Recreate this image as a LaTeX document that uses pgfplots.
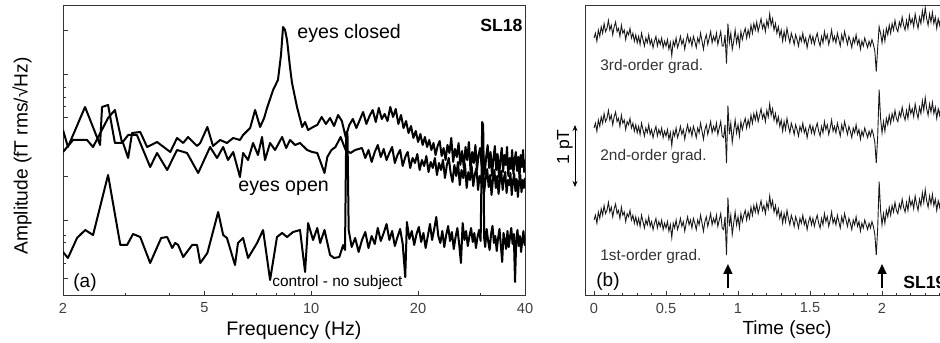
\documentclass[border=0pt]{standalone}
\usepackage{pgfplots}
\pgfplotsset{compat=1.18}
\usepackage{pgfplotstable}
\usepackage{fontspec}
\setmainfont{Liberation Sans}
\usetikzlibrary{arrows.meta}
\newcommand\tickfont{\fontsize{7.3}{8}\selectfont}

% eyes closed spectrum (vertical value = depth in px from top of figure)
\pgfplotstableread{
f py
2.000 130
2.065 147
2.307 107
2.543 145
2.576 107
2.679 105
2.800 143
2.953 143
3.051 158
3.130 133
3.300 132
3.450 147
3.680 142
4.010 152
4.190 138
4.360 143
4.500 137
4.770 146
4.870 143
5.100 127
5.290 146
5.540 140
5.790 143
6.030 138
6.300 140
6.430 135
6.730 128
6.950 110
7.180 127
7.370 118
7.510 108
7.810 90
8.060 80
8.220 55
8.330 27
8.440 30
8.550 40
8.720 68
8.830 83
9.120 107
9.430 127
9.610 122
9.800 130
10.12 127
10.4 125
10.7 117
11.0 124
11.3 118
11.6 126
11.9 115
12.2 121
12.5 137
12.8 125
13.1 119
13.4 128
13.7 120
14.0 112
14.3 124
14.6 116
14.9 110
15.2 122
15.5 108
15.8 119
16.1 114
16.4 121
16.7 107
17.0 117
17.3 109
17.6 124
17.9 115
18.2 128
18.5 121
18.8 133
19.1 126
19.4 138
19.7 131
20.0 142
20.3 134
20.6 145
20.9 137
21.2 147
21.5 140
21.8 150
22.1 143
22.4 155
22.7 146
23.0 141
23.3 156
23.6 148
23.9 160
24.2 145
24.5 153
24.8 138
25.1 162
25.4 149
25.7 157
26.0 143
26.3 165
26.6 151
26.9 168
27.2 147
27.5 160
27.8 142
28.1 171
28.4 152
28.7 163
29.0 145
29.3 170
29.6 155
29.9 148
30.2 166
30.5 150
30.8 174
31.1 157
31.4 145
31.7 168
32.0 152
32.3 176
32.6 158
32.9 146
33.2 170
33.5 154
33.8 178
34.1 160
34.4 148
34.7 172
35.0 155
35.3 165
35.6 147
35.9 176
36.2 158
36.5 169
36.8 150
37.1 174
37.4 160
37.7 152
38.0 171
38.3 157
38.6 178
38.9 155
39.2 167
39.5 150
39.8 172
40.0 160
}\closedtbl

% eyes open spectrum
\pgfplotstableread{
f py
2.000 152
2.134 140
2.337 140
2.430 147
2.679 118
2.800 110
2.934 143
3.051 135
3.230 135
3.520 167
3.680 153
3.930 170
4.190 150
4.470 153
4.805 173
5.190 147
5.430 158
5.650 147
5.830 160
6.030 152
6.300 177
6.430 153
6.640 160
6.860 143
7.080 155
7.270 137
7.410 160
7.660 143
7.910 150
8.280 137
8.500 148
8.720 140
9.010 145
9.300 143
9.740 150
10.06 152
10.40 153
10.70 165
10.90 173
11.10 157
11.40 150
11.70 147
12.10 137
12.50 150
12.90 153
13.30 150
13.90 148
14.2 158
14.5 150
14.8 162
15.1 152
15.4 145
15.7 157
16.0 149
16.3 160
16.6 153
16.9 147
17.2 163
17.5 155
17.8 150
18.1 166
18.4 157
18.7 152
19.0 168
19.3 158
19.6 163
19.9 154
20.2 170
20.5 160
20.8 166
21.1 156
21.4 172
21.7 162
22.0 168
22.3 158
22.6 175
22.9 163
23.2 170
23.5 160
23.8 178
24.1 165
24.4 158
24.7 173
25.0 182
25.3 165
25.6 176
25.9 162
26.2 185
26.5 170
26.8 178
27.1 164
27.4 188
27.7 172
28.0 180
28.3 166
28.6 186
28.9 174
29.2 168
29.5 190
29.8 176
30.1 183
30.4 170
30.7 192
31.0 178
31.3 169
31.6 187
31.9 175
32.2 195
32.5 179
32.8 170
33.1 188
33.4 176
33.7 194
34.0 180
34.3 171
34.6 190
34.9 178
35.2 172
35.5 193
35.8 180
36.1 185
36.4 173
36.7 195
37.0 181
37.3 174
37.6 191
37.9 179
38.2 197
38.5 182
38.8 175
39.1 192
39.4 180
39.7 188
40.0 178
}\opentbl

% control - no subject
\pgfplotstableread{
f py
2.000 252
2.065 258
2.190 238
2.310 230
2.430 235
2.679 175
2.900 245
3.030 245
3.150 234
3.300 237
3.520 263
3.780 238
3.930 237
4.060 248
4.140 243
4.220 245
4.360 257
4.620 245
4.770 245
4.870 263
5.100 253
5.470 212
5.650 235
5.790 238
6.100 265
6.220 243
6.430 238
6.640 258
7.040 243
7.320 230
7.660 280
8.010 237
8.280 233
8.550 237
8.890 232
9.300 230
9.610 272
9.800 223
10.12 240
10.40 228
10.60 243
10.90 230
11.30 255
11.60 258
12.00 257
12.30 245
12.45 250
12.55 132
12.65 134
12.75 230
13.0 247
13.3 238
13.6 252
13.9 240
14.2 232
14.5 248
14.8 236
15.1 244
15.4 228
15.7 241
16.0 233
16.3 224
16.6 240
16.9 231
17.2 246
17.5 237
17.8 229
18.1 244
18.4 277
18.6 222
18.9 239
19.2 231
19.5 245
19.8 234
20.1 227
20.4 242
20.7 233
21.0 248
21.3 236
21.6 224
21.9 240
22.2 229
22.5 217
22.8 236
23.1 243
23.4 231
23.7 247
24.0 235
24.3 226
24.6 241
24.9 232
25.2 249
25.5 237
25.8 228
26.1 244
26.4 263
26.7 223
27.0 240
27.3 231
27.6 246
27.9 236
28.2 228
28.5 242
28.8 233
29.1 248
29.4 237
29.7 230
30.0 241
30.3 122
30.5 125
30.7 238
30.9 247
31.2 229
31.5 241
31.8 250
32.1 234
32.4 226
32.7 243
33.0 236
33.3 251
33.6 238
33.9 229
34.2 245
34.5 262
34.8 233
35.1 240
35.4 249
35.7 231
36.0 247
36.3 237
36.6 228
36.9 244
37.2 234
37.5 282
37.8 239
38.1 230
38.4 246
38.7 236
39.0 252
39.3 240
39.6 231
39.9 245
40.0 238
}\controltbl

% time traces: a = 1st/2nd-order gradiometer, b = 3rd-order (deviation, + = down)
\pgfplotstableread{
t a b
0.00 0 0
0.01 -3 -3
0.02 2 2
0.03 -5 -5
0.04 -1 -1
0.05 -7 -7
0.06 -3 -3
0.07 -9 -9
0.08 -4 -4
0.09 -6 -6
0.10 -11 -11
0.11 -5 -5
0.12 -8 -8
0.13 -2 -2
0.14 -7 -7
0.15 -10 -10
0.16 -4 -4
0.17 -6 -6
0.18 -1 -1
0.19 -8 -8
0.20 -3 -3
0.21 -5 -5
0.22 1 1
0.23 -4 -4
0.24 -2 -2
0.25 -6 -6
0.26 0 0
0.27 -3 -3
0.28 2 2
0.29 -2 -2
0.30 3 3
0.31 -1 -1
0.32 4 4
0.33 -3 -3
0.34 1 1
0.35 5 5
0.36 0 0
0.37 3 3
0.38 -2 -2
0.39 4 4
0.40 1 1
0.41 6 6
0.42 2 2
0.43 -1 -1
0.44 5 5
0.45 1 1
0.46 4 4
0.47 0 0
0.48 6 6
0.49 2 2
0.50 5 5
0.51 1 1
0.52 7 7
0.53 3 3
0.54 11 11
0.55 2 2
0.56 5 5
0.57 0 0
0.58 6 6
0.59 3 3
0.60 -1 -1
0.61 4 4
0.62 1 1
0.63 7 7
0.64 2 2
0.65 -2 -2
0.66 3 3
0.67 0 0
0.68 5 5
0.69 -1 -1
0.70 2 2
0.71 6 6
0.72 0 0
0.73 3 3
0.74 -3 -3
0.75 2 2
0.76 7 7
0.77 1 1
0.78 -2 -2
0.79 4 4
0.80 0 0
0.81 -4 -4
0.82 3 3
0.83 -1 -1
0.84 2 2
0.85 -3 -3
0.86 4 4
0.87 0 0
0.88 -4 -4
0.89 5 5
0.90 6 5
0.91 -2 -2
0.92 22 16
0.93 -14 -9
0.94 4 3
0.95 -3 -3
0.96 9 7
0.97 2 2
0.98 -5 -5
0.99 3 3
1.00 -2 -2
1.01 5 5
1.02 -4 -4
1.03 1 1
1.04 -3 -3
1.05 -6 -6
1.06 0 0
1.07 -5 -5
1.08 -1 -1
1.09 -8 -8
1.10 -3 -3
1.11 -9 -9
1.12 -5 -5
1.13 -10 -10
1.14 -4 -4
1.15 -8 -8
1.16 -12 -12
1.17 -6 -6
1.18 -9 -9
1.19 -4 -4
1.20 -11 -11
1.21 -7 -7
1.22 -15 -15
1.23 -8 -8
1.24 -12 -12
1.25 -5 -5
1.26 -9 -9
1.27 -3 -3
1.28 -7 -7
1.29 -1 -1
1.30 -5 -5
1.31 2 2
1.32 -4 -4
1.33 1 1
1.34 -6 -6
1.35 -1 -1
1.36 3 3
1.37 -3 -3
1.38 0 0
1.39 4 4
1.40 -2 -2
1.41 1 1
1.42 5 5
1.43 -1 -1
1.44 2 2
1.45 -3 -3
1.46 3 3
1.47 0 0
1.48 6 6
1.49 1 1
1.50 -2 -2
1.51 3 3
1.52 -1 -1
1.53 4 4
1.54 0 0
1.55 -3 -3
1.56 2 2
1.57 5 5
1.58 -1 -1
1.59 3 3
1.60 -4 -4
1.61 1 1
1.62 -2 -2
1.63 4 4
1.64 0 0
1.65 -5 -5
1.66 2 2
1.67 -1 -1
1.68 3 3
1.69 -3 -3
1.70 1 1
1.71 5 5
1.72 -2 -2
1.73 2 2
1.74 -4 -4
1.75 0 0
1.76 4 4
1.77 -1 -1
1.78 2 2
1.79 6 6
1.80 0 0
1.81 3 3
1.82 -2 -2
1.83 4 4
1.84 1 1
1.85 7 7
1.86 2 2
1.87 5 5
1.88 0 0
1.89 3 3
1.90 6 6
1.91 2 2
1.92 5 5
1.93 1 1
1.94 4 4
1.95 9 8
1.96 22 21
1.97 5 6
1.98 -24 -7
1.99 -6 -3
2.00 3 3
2.01 -4 -4
2.02 2 2
2.03 -6 -6
2.04 -2 -2
2.05 -8 -8
2.06 -3 -3
2.07 -9 -9
2.08 -5 -5
2.09 -11 -11
2.10 -6 -6
2.11 -4 -4
2.12 -10 -10
2.13 -7 -7
2.14 -13 -13
2.15 -8 -8
2.16 -5 -5
2.17 -11 -11
2.18 -6 -6
2.19 -14 -14
2.20 -9 -9
2.21 -12 -12
2.22 -7 -7
2.23 -15 -15
2.24 -10 -10
2.25 -6 -6
2.26 -13 -13
2.27 -9 -9
2.28 -17 -17
2.29 -11 -11
2.30 -19 -19
2.31 -12 -12
2.32 -8 -8
2.33 -15 -15
2.34 -10 -10
2.35 -16 -16
2.36 -9 -9
2.37 -13 -13
2.38 -6 -6
2.39 -12 -12
2.40 -8 -8
2.41 -14 -14
2.42 -10 -10
2.43 -7 -7
2.44 -12 -12
2.45 -9 -9
}\tracetbl

\pgfplotsset{
  panel/.style={
    scale only axis, anchor=south west, height=145pt,
    ymin=4, ymax=294,
    tick pos=left, tick align=inside,
    major tick length=2.5pt, minor tick length=1.5pt,
    every tick/.style={black!80, line width=0.5pt},
    axis line style={black!80, line width=0.5pt},
    xticklabel style={font=\tickfont, text=black!75, anchor=center, yshift=-6pt},
    /pgf/number format/assume math mode=true,
  }
}

\begin{document}
\begin{tikzpicture}
\begin{axis}[panel, at={(31.5pt,23pt)}, width=231pt,
  xmode=log, xmin=2, xmax=40,
  xtick={2,5,10,20,40}, xticklabels={2,5,10,20,40},
  minor xtick={3,4,6,7,8,9,30},
  ytick={21,79,123,182,225,269}, yticklabels={},
  minor ytick={36,57,64,193,202,212}]
\addplot[black, line width=1pt, line join=round] table[x=f, y expr=300-\thisrow{py}] {\closedtbl};
\addplot[black, line width=1pt, line join=round] table[x=f, y expr=300-\thisrow{py}] {\opentbl};
\addplot[black, line width=1pt, line join=round] table[x=f, y expr=300-\thisrow{py}] {\controltbl};
\end{axis}

\begin{axis}[panel, at={(292.5pt,23pt)}, width=184.5pt,
  xmin=-0.0625, xmax=2.5,
  xtick={0,0.5,1,1.5,2}, xticklabels={0,0.5,1,1.5,2},
  minor xtick={0,0.1,...,2.45},
  ytick=\empty]
\addplot[black!90, line width=0.45pt] table[x=t, y expr=262-1.6*\thisrow{b}] {\tracetbl};
\addplot[black!90, line width=0.45pt] table[x=t, y expr=172-1.6*\thisrow{a}] {\tracetbl};
\addplot[black!90, line width=0.45pt] table[x=t, y expr=80-1.6*\thisrow{a}] {\tracetbl};
\draw[line width=0.8pt, -{Triangle[length=5pt,width=4.5pt]}] (axis cs:0.93,12) -- (axis cs:0.93,36);
\draw[line width=0.8pt, -{Triangle[length=5pt,width=4.5pt]}] (axis cs:2.0,12) -- (axis cs:2.0,36);
\end{axis}

% labels and annotations
\node[rotate=90, font=\fontsize{9.6}{11}\selectfont] at (11pt,93pt) {Amplitude (fT rms/√Hz)};
\node[font=\fontsize{9.8}{11}\selectfont] at (147pt,6pt) {Frequency (Hz)};
\node[font=\fontsize{9.5}{11}\selectfont] at (393.5pt,6pt) {Time (sec)};
\node[anchor=west, inner sep=0pt, font=\fontsize{9.8}{11}\selectfont] at (148.5pt,154.5pt) {eyes closed};
\node[anchor=west, inner sep=0pt, font=\fontsize{9.8}{11}\selectfont] at (119pt,77pt) {eyes open};
\node[anchor=west, inner sep=0pt, font=\fontsize{7.7}{9}\selectfont] at (136pt,29.5pt) {control - no subject};
\node[anchor=west, inner sep=0pt, font=\fontsize{9.5}{11}\selectfont] at (36.5pt,29.5pt) {(a)};
\node[anchor=west, inner sep=0pt, font=\fontsize{8.8}{10}\selectfont\bfseries] at (240pt,158.5pt) {SL18};
\node[anchor=west, inner sep=0pt, font=\fontsize{9.5}{11}\selectfont] at (298pt,30pt) {(b)};
\node[anchor=west, inner sep=0pt, font=\fontsize{8.8}{10}\selectfont\bfseries] at (451.5pt,30pt) {SL19};
\node[anchor=west, inner sep=0pt, text=black!80, font=\fontsize{7.7}{9}\selectfont] at (300pt,137.5pt) {3rd-order grad.};
\node[anchor=west, inner sep=0pt, text=black!80, font=\fontsize{7.7}{9}\selectfont] at (300pt,92.5pt) {2nd-order grad.};
\node[anchor=west, inner sep=0pt, text=black!80, font=\fontsize{7.7}{9}\selectfont] at (300pt,42.5pt) {1st-order grad.};
\node[rotate=90, font=\fontsize{8.75}{10}\selectfont] at (282.5pt,97.5pt) {1 pT};
\draw[{Stealth[length=3pt,width=2.5pt]}-{Stealth[length=3pt,width=2.5pt]}, line width=0.4pt] (287.5pt,77.5pt) -- (287.5pt,108.5pt);

\pgfresetboundingbox
\useasboundingbox (0,0) rectangle (470pt,171pt);
\end{tikzpicture}
\end{document}
